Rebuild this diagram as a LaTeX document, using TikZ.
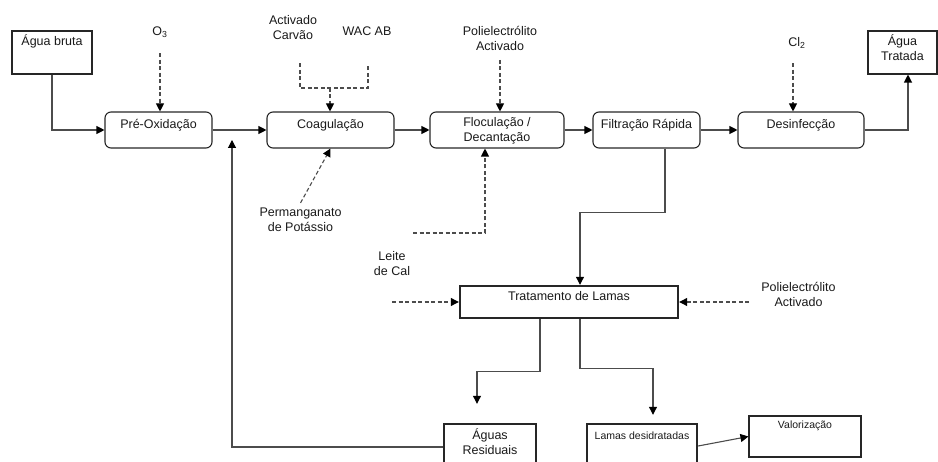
\documentclass[tikz,border=0pt]{standalone}
\usepackage{fontspec}
\setmainfont{Liberation Sans}
\usetikzlibrary{arrows.meta,positioning,calc}

\begin{document}
\begin{tikzpicture}[x=1pt, y=-1pt, font=\fontsize{12.5}{15}\selectfont,
    every node/.style={text=black!90},
    etapa/.style={draw=black!85, line width=1.1pt, rounded corners=6pt, minimum height=36pt, text height=9pt, text depth=11pt, align=center, inner sep=2pt},
    caixa/.style={draw=black!85, line width=1.1pt, align=center, inner sep=2pt},
    grossa/.style={caixa, line width=2.4pt},
    rotulo/.style={align=center, inner sep=0pt},
    pequeno/.style={font=\fontsize{10.5}{12}\selectfont},
    fluxo/.style={draw=black!70, line width=1.1pt, -{Triangle[length=8pt,width=8pt,color=black]}},
    dose/.style={fluxo, dash pattern=on 4pt off 2.5pt}]
    \path[use as bounding box, clip] (0,0) rectangle (938,462);

    % linha principal
    \node[caixa, minimum width=80pt, minimum height=43pt, text height=9pt, text depth=22pt] (bruta) at (52,52.5) {Água bruta};
    \node[etapa, minimum width=107pt] (preox) at (158.5,130) {Pré-Oxidação};
    \node[etapa, minimum width=127pt] (coag) at (330.5,130) {Coagulação};
    \node[etapa, minimum width=134pt, text height=24pt, text depth=-4pt] (floc) at (497,130) {Floculação /\\Decantação};
    \node[etapa, minimum width=107pt] (filt) at (646.5,130) {Filtração Rápida};
    \node[etapa, minimum width=126pt] (desinf) at (801,130) {Desinfecção};
    \node[caixa, minimum width=69pt, minimum height=43pt, text height=24pt, text depth=7pt] (tratada) at (902.5,52.5) {Água\\Tratada};

    % lamas
    \node[grossa, minimum width=218pt, minimum height=32pt, text height=9pt, text depth=11pt] (lamas) at (569,302) {Tratamento de Lamas};
    \node[grossa, minimum width=92pt, minimum height=50pt, text height=24pt, text depth=12pt] (residuais) at (490,449) {Águas\\Residuais};
    \node[grossa, pequeno, minimum width=110pt, minimum height=50pt, text height=8pt, text depth=28pt] (desidrat) at (642,449) {Lamas desidratadas};
    \node[caixa, pequeno, minimum width=112pt, minimum height=41pt, text height=8pt, text depth=23pt] (valor) at (805,436.5) {Valorização};

    % reagentes
    \node[rotulo] (o3) at (160,32.5) {O\textsubscript{3}};
    \node[rotulo] (carvao) at (293,28) {Activado\\Carvão};
    \node[rotulo] (wac) at (367,31) {WAC AB};
    \node[rotulo] (poliF) at (500,38.5) {Polielectrólito\\Activado};
    \node[rotulo] (cl2) at (797,42.5) {Cl\textsubscript{2}};
    \node[rotulo] (perman) at (300.5,220) {Permanganato\\de Potássio};
    \node[rotulo] (leite) at (392,263.5) {Leite\\de Cal};
    \node[rotulo] (poliL) at (798.5,294.5) {Polielectrólito\\Activado};
    \coordinate (juncao) at (330,88);
    \coordinate (calF) at (413,233);
    \coordinate (retorno) at (232,140);

    \draw[fluxo] (bruta) |- (preox);
    \draw[fluxo] (preox) -- (coag);
    \draw[fluxo] (coag) -- (floc);
    \draw[fluxo] (floc) -- (filt);
    \draw[fluxo] (filt) -- (desinf);
    \draw[fluxo] (desinf) -| ($(tratada.south)+(5.5,0)$);
    \draw[fluxo] ($(filt.south)+(18.5,0)$) -- ++(0,64) -| ($(lamas.north)+(11,0)$);
    \draw[fluxo, shorten >=19pt] ($(lamas.south)+(-29,0)$) -- ++(0,52) -| ($(residuais.north)+(-13,0)$);
    \draw[fluxo, shorten >=8pt] ($(lamas.south)+(11,0)$) -- ++(0,49) -| ($(desidrat.north)+(11,0)$);
    \draw[fluxo] ($(desidrat.east)+(0,-3)$) -- (valor.west);
    \draw[fluxo] ($(residuais.west)+(0,-2)$) -| (retorno);

    \draw[dose] ($(o3.south)+(0,15)$) -- (o3.south |- preox.north);
    \draw[dose, -] ($(carvao.south)+(7,23)$) |- (juncao) -| ($(wac.south)+(1,30)$);
    \draw[dose] (juncao) -- (juncao |- coag.north);
    \draw[dose] ($(poliF.south)+(0,9)$) -- (poliF.south |- floc.north);
    \draw[dose] ($(cl2.south)+(-4,15)$) -- ($(desinf.north)+(-8,0)$);
    \draw[dose] ($(perman.north)+(0,-5)$) -- (coag.south);
    \draw[dose] (calF) -| ($(floc.south)+(-12,0)$);
    \draw[dose] (leite.south |- lamas.west) -- (lamas.west);
    \draw[dose] ($(poliL.west |- lamas.east)+(-12,0)$) -- (lamas.east);
\end{tikzpicture}
\end{document}
